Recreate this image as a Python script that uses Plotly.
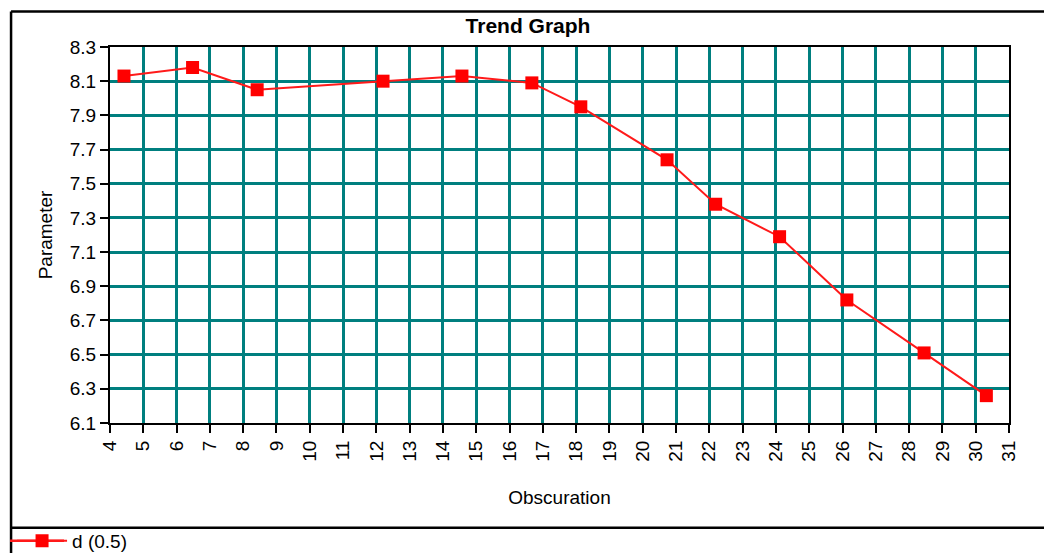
import plotly.graph_objects as go

# Observation positions and measured parameter values
obs = [4.42, 6.48, 8.42, 12.2, 14.57, 16.67, 18.14, 20.73, 22.19, 24.11, 26.13, 28.45, 30.32]
param = [8.13, 8.18, 8.05, 8.10, 8.13, 8.09, 7.95, 7.64, 7.38, 7.19, 6.82, 6.51, 6.26]
series_name = "d (0.5)"

x_ticks = list(range(4, 32))
y_ticks = [6.1, 6.3, 6.5, 6.7, 6.9, 7.1, 7.3, 7.5, 7.7, 7.9, 8.1, 8.3]

FONT = "Liberation Sans, Arial, sans-serif"
GRID = "#007f7f"
RED = "#ff1a1a"

# plot-area geometry in pixels (used to place the outer frame in paper units)
W, H = 1044, 553
L, R, T, B = 110, 34.5, 46.5, 130
PW, PH = W - L - R, H - T - B


def px_x(p):
    return (p - L) / PW


def px_y(p):
    return (H - B - p) / PH


fig = go.Figure()
fig.add_trace(go.Scatter(
    x=obs, y=param, name=series_name, mode="lines+markers",
    line=dict(color=RED, width=2),
    marker=dict(symbol="square", size=13, color="#ff0000"),
    showlegend=True,
))

frame = dict(type="line", xref="paper", yref="paper", line=dict(color="black", width=2.5))
legend_line = dict(type="line", xref="paper", yref="paper", line=dict(color=RED, width=2.5))
LEG_Y = 541

fig.update_layout(
    width=W, height=H,
    margin=dict(l=L, r=R, t=T, b=B, autoexpand=False),
    paper_bgcolor="white", plot_bgcolor="white",
    font=dict(family=FONT, size=19, color="black"),
    title=dict(text="<b>Trend Graph</b>", xref="container", x=528 / W, xanchor="center",
               yref="container", y=1 - 26 / H, yanchor="middle",
               font=dict(family=FONT, size=21, color="black")),
    xaxis=dict(range=[4, 31], tickvals=x_ticks, ticktext=[str(v) for v in x_ticks],
               tickangle=-90, ticks="outside", ticklen=8, tickwidth=2, tickcolor="black",
               tickfont=dict(size=19),
               showline=True, linecolor="black", linewidth=2, mirror=True,
               showgrid=True, gridcolor=GRID, gridwidth=3, zeroline=False,
               title=dict(text="Obscuration", standoff=30, font=dict(size=19))),
    yaxis=dict(range=[6.1, 8.3], tickvals=y_ticks, ticktext=[f"{v:.1f}" for v in y_ticks],
               ticks="outside", ticklen=8, tickwidth=2, tickcolor="black",
               tickfont=dict(size=19),
               showline=True, linecolor="black", linewidth=2, mirror=True,
               showgrid=True, gridcolor=GRID, gridwidth=3, zeroline=False,
               title=dict(text="Parameter", standoff=12, font=dict(size=19))),
    legend=dict(orientation="h", x=px_x(12), xanchor="left", y=px_y(LEG_Y), yanchor="middle",
                bgcolor="rgba(0,0,0,0)", font=dict(size=19), itemwidth=50),
    shapes=[
        dict(frame, x0=px_x(11), x1=px_x(11), y0=px_y(11), y1=px_y(H + 2)),
        dict(frame, x0=px_x(11), x1=px_x(W + 2), y0=px_y(11), y1=px_y(11)),
        dict(frame, x0=px_x(11), x1=px_x(W + 2), y0=px_y(528), y1=px_y(528)),
        # longer legend stroke behind the legend symbol
        dict(legend_line, x0=px_x(10), x1=px_x(64), y0=px_y(LEG_Y), y1=px_y(LEG_Y)),
    ],
)

fig.write_html("out.html")
